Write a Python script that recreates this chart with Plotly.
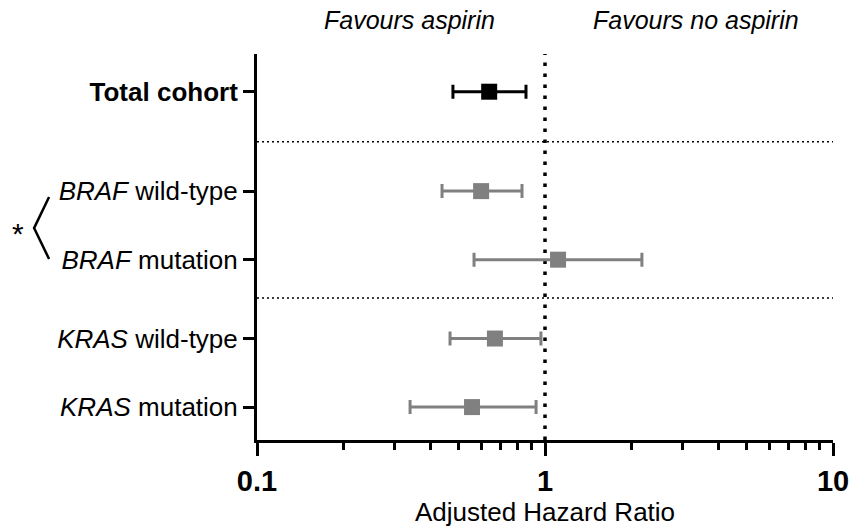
import plotly.graph_objects as go

# ---- data ----
labels = ["<b>Total cohort</b>", "<i>BRAF</i> wild-type", "<i>BRAF</i> mutation",
          "<i>KRAS</i> wild-type", "<i>KRAS</i> mutation"]
hr = [0.64, 0.60, 1.11, 0.67, 0.558]
ci_low = [0.479, 0.439, 0.567, 0.468, 0.340]
ci_high = [0.859, 0.832, 2.17, 0.968, 0.931]
row_pos = [0.55, 2.0, 3.0, 4.15, 5.15]
colors = ["#000000", "#808080", "#808080", "#808080", "#808080"]
separator_pos = [1.28, 3.56]
x_ticks = [0.1, 1, 10]
x_ticktext = ["0.1", "1", "10"]
minor_ticks = [0.2, 0.3, 0.4, 0.5, 0.6, 0.7, 0.8, 0.9, 2, 3, 4, 5, 6, 7, 8, 9]
y_range = [5.63, 0]

FONT = "Liberation Sans, Arial, sans-serif"

fig = go.Figure()

# separators
for sp in separator_pos:
    fig.add_trace(go.Scatter(x=[0.1, 10], y=[sp, sp], mode="lines",
                             line=dict(color="black", width=1.5, dash="2px,3px"),
                             hoverinfo="skip", showlegend=False))

# vertical reference line at HR = 1
fig.add_trace(go.Scatter(x=[1, 1], y=y_range, mode="lines",
                         line=dict(color="black", width=3.5, dash="3.5px,7.5px"),
                         hoverinfo="skip", showlegend=False))

for i in range(len(hr)):
    fig.add_trace(go.Scatter(
        x=[hr[i]], y=[row_pos[i]], mode="markers",
        marker=dict(symbol="square", size=16, color=colors[i], line=dict(width=0)),
        error_x=dict(type="data", symmetric=False,
                     array=[ci_high[i] - hr[i]], arrayminus=[hr[i] - ci_low[i]],
                     color=colors[i], thickness=3, width=7),
        showlegend=False))

fig.update_layout(
    width=854, height=529,
    margin=dict(l=257, r=21, t=54, b=89, autoexpand=False),
    paper_bgcolor="white", plot_bgcolor="white",
    font=dict(family=FONT, color="black"),
    xaxis=dict(type="log", range=[-1, 1], tickvals=x_ticks, ticktext=x_ticktext,
               automargin=False,
               showgrid=False, zeroline=False,
               showline=True, linecolor="black", linewidth=3,
               ticks="outside", ticklen=13, tickwidth=3, tickcolor="black",
               tickfont=dict(size=29, family=FONT, color="black", weight="bold"),
               minor=dict(tickvals=minor_ticks, ticks="outside", ticklen=7,
                          tickwidth=2.5, tickcolor="black", showgrid=False),
               title=dict(text="Adjusted Hazard Ratio", font=dict(size=26, family=FONT),
                          standoff=6)),
    yaxis=dict(range=y_range, tickvals=row_pos, ticktext=labels,
               automargin=False,
               showgrid=False, zeroline=False,
               showline=True, linecolor="black", linewidth=3,
               ticks="outside", ticklen=11, tickwidth=3, tickcolor="black",
               tickfont=dict(size=26, family=FONT, color="black")),
    annotations=[
        dict(text="<i>Favours aspirin</i>", xref="paper", yref="paper",
             x=0.2656, y=1.088, xanchor="center", yanchor="middle",
             showarrow=False, font=dict(size=25, family=FONT)),
        dict(text="<i>Favours no aspirin</i>", xref="paper", yref="paper",
             x=0.762, y=1.088, xanchor="center", yanchor="middle",
             showarrow=False, font=dict(size=25, family=FONT)),
        dict(text="*", xref="paper", yref="paper", x=-0.415, y=0.535,
             xanchor="center", yanchor="middle",
             showarrow=False, font=dict(size=30, family=FONT)),
    ],
    shapes=[
        dict(type="path", xref="paper", yref="paper",
             path="M -0.361,0.6295 L -0.387,0.549 L -0.361,0.469",
             line=dict(color="black", width=2.5)),
    ],
)

fig.write_html("out.html", config={"displayModeBar": False},
               post_script="document.body.style.margin='0';document.body.style.padding='0';")
